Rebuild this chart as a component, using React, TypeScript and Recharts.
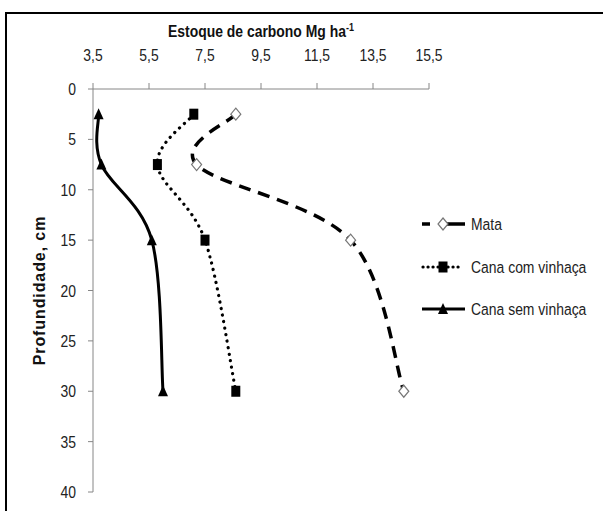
import React from "react";
import { ScatterChart, Scatter, XAxis, YAxis, Legend } from "recharts";

// profundidade (cm) e estoque de carbono (Mg ha-1)
const depths = [2.5, 7.5, 15, 30];
const mata = [8.6, 7.2, 12.7, 14.6];
const canaComVinhaca = [7.1, 5.8, 7.5, 8.6];
const canaSemVinhaca = [3.7, 3.8, 5.6, 6.0];
const xTicks = [3.5, 5.5, 7.5, 9.5, 11.5, 13.5, 15.5];
const yTicks = [0, 5, 10, 15, 20, 25, 30, 35, 40];
const seriesNames = ["Mata", "Cana com vinhaça", "Cana sem vinhaça"];

const toPoints = (vals: number[]) => depths.map((d, i) => ({ x: vals[i], y: d }));

// no narrow font installed, so Liberation Sans squeezed horizontally
const SANS = "'Liberation Sans', Arial, sans-serif";
const SQUEEZE = 0.82;
const AXIS = "#868686";

// Excel-style smoothed line (bezier through the points)
const excelSmooth = (context: any) => {
  let pts: number[][] = [];
  return {
    areaStart() {},
    areaEnd() {},
    lineStart() {
      pts = [];
    },
    lineEnd() {
      const n = pts.length;
      if (!n) return;
      context.moveTo(pts[0][0], pts[0][1]);
      for (let i = 0; i < n - 1; i++) {
        const p0 = pts[Math.max(i - 1, 0)];
        const p1 = pts[i];
        const p2 = pts[i + 1];
        const p3 = pts[Math.min(i + 2, n - 1)];
        context.bezierCurveTo(
          p1[0] + (p2[0] - p0[0]) / 6,
          p1[1] + (p2[1] - p0[1]) / 6,
          p2[0] - (p3[0] - p1[0]) / 6,
          p2[1] - (p3[1] - p1[1]) / 6,
          p2[0],
          p2[1]
        );
      }
    },
    point(x: number, y: number) {
      pts.push([x, y]);
    },
  };
};

const Narrow = ({ x, y, anchor = "start", size = 17, bold = false, fill = "#222", children }: any) => (
  <g transform={`translate(${x},${y}) scale(${SQUEEZE},1)`}>
    <text x={0} y={0} textAnchor={anchor} fontFamily={SANS} fontSize={size} fontWeight={bold ? "bold" : "normal"} fill={fill}>
      {children}
    </text>
  </g>
);

const Diamond = (p: any) => (
  <polygon
    points={`${p.cx},${p.cy - 6} ${p.cx + 5},${p.cy} ${p.cx},${p.cy + 6} ${p.cx - 5},${p.cy}`}
    fill="#fff"
    stroke="#777"
    strokeWidth={1.2}
  />
);
const Square = (p: any) => <rect x={p.cx - 4.5} y={p.cy - 5.5} width={9} height={11} fill="#000" />;
const Triangle = (p: any) => (
  <polygon points={`${p.cx},${p.cy - 6} ${p.cx + 5},${p.cy + 5} ${p.cx - 5},${p.cy + 5}`} fill="#000" />
);

const mataLine = { stroke: "#000", strokeWidth: 3.5, strokeDasharray: "12 8" };
const comLine = { stroke: "#000", strokeWidth: 3.2, strokeDasharray: "0.1 6.5", strokeLinecap: "round" };
const semLine = { stroke: "#000", strokeWidth: 3 };

const LegendBox = () => {
  const rows = [19, 62, 104];
  return (
    <svg width={190} height={125}>
      <line x1={12} x2={55} y1={rows[0]} y2={rows[0]} stroke="#000" strokeWidth={3.5} strokeDasharray="8 9 30" />
      <Diamond cx={33} cy={rows[0]} />
      <line x1={13} x2={53} y1={rows[1]} y2={rows[1]} {...(comLine as any)} strokeDasharray="0.1 4.9" />
      <Square cx={33} cy={rows[1]} />
      <line x1={12} x2={55} y1={rows[2]} y2={rows[2]} {...semLine} />
      <Triangle cx={33} cy={rows[2]} />
      {seriesNames.map((n, i) => (
        <Narrow key={n} x={61} y={rows[i] + 6}>
          {n}
        </Narrow>
      ))}
    </svg>
  );
};

const XTitle = (props: any) => {
  const vb = props.viewBox || { x: 93, width: 336 };
  return (
    <Narrow x={vb.x + vb.width / 2} y={37} anchor="middle" bold fill="#111">
      Estoque de carbono Mg ha
      <tspan dy={-6} fontSize={11}>-1</tspan>
    </Narrow>
  );
};

const YTitle = (props: any) => {
  const vb = props.viewBox || { y: 89, height: 403 };
  const cy = vb.y + vb.height / 2;
  return (
    <text
      x={45}
      y={cy}
      transform={`rotate(-90, 45, ${cy})`}
      textAnchor="middle"
      fontFamily={SANS}
      fontWeight="bold"
      fontSize={16}
      letterSpacing={0.9}
      fill="#111"
    >
      Profundidade, cm
    </text>
  );
};

const fmt = (v: number) => String(v).replace(".", ",");

const XTick = (p: any) => (
  <Narrow x={p.x} y={p.y} anchor="middle">
    {fmt(p.payload.value)}
  </Narrow>
);
const YTick = (p: any) => (
  <Narrow x={p.x} y={p.y + 6} anchor="end">
    {fmt(p.payload.value)}
  </Narrow>
);

export default function App() {
  return (
    <div style={{ position: "absolute", left: 0, top: 0, width: 603, height: 511, background: "#fff" }}>
      <div
        style={{
          position: "absolute",
          left: 5,
          top: 12,
          width: 598,
          height: 499,
          boxSizing: "border-box",
          borderTop: "2px solid #000",
          borderLeft: "2px solid #000",
        }}
      />
      <ScatterChart width={603} height={511} margin={{ top: 49, right: 174, bottom: 19, left: 33 }}>
        <XAxis
          type="number"
          dataKey="x"
          orientation="top"
          height={40}
          domain={[3.5, 15.5]}
          ticks={xTicks}
          tick={XTick}
          tickSize={6}
          tickMargin={22}
          stroke={AXIS}
          label={{ content: XTitle }}
        />
        <YAxis
          type="number"
          dataKey="y"
          reversed
          width={60}
          domain={[0, 40]}
          ticks={yTicks}
          tick={YTick}
          tickSize={5}
          tickMargin={12}
          stroke={AXIS}
          label={{ content: YTitle }}
        />
        <Legend
          layout="vertical"
          align="center"
          verticalAlign="middle"
          wrapperStyle={{ left: 410, top: 205, width: 190, height: 125 }}
          content={LegendBox}
        />
        <Scatter name={seriesNames[0]} data={toPoints(mata)} line={mataLine} lineJointType={excelSmooth as any} shape={Diamond} isAnimationActive={false} />
        <Scatter name={seriesNames[1]} data={toPoints(canaComVinhaca)} line={comLine} lineJointType={excelSmooth as any} shape={Square} isAnimationActive={false} />
        <Scatter name={seriesNames[2]} data={toPoints(canaSemVinhaca)} line={semLine} lineJointType={excelSmooth as any} shape={Triangle} isAnimationActive={false} />
      </ScatterChart>
    </div>
  );
}
